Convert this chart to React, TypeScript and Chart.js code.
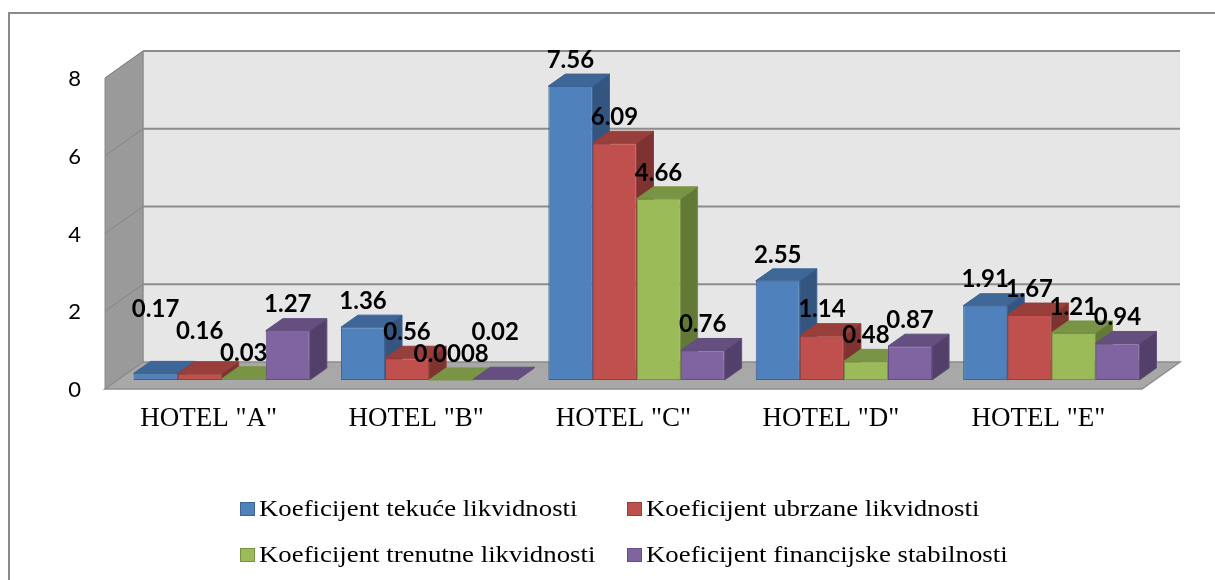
import React, { useEffect, useRef } from "react";
import { Chart, registerables } from "chart.js";

Chart.register(...registerables);

// ---- data ----
const categories = ['HOTEL "A"', 'HOTEL "B"', 'HOTEL "C"', 'HOTEL "D"', 'HOTEL "E"'];
const seriesNames = [
  "Koeficijent tekuće likvidnosti",
  "Koeficijent ubrzane likvidnosti",
  "Koeficijent trenutne likvidnosti",
  "Koeficijent financijske stabilnosti",
];
const tekuceLikvidnost = [0.17, 1.36, 7.56, 2.55, 1.91];
const ubrzaneLikvidnost = [0.16, 0.56, 6.09, 1.14, 1.67];
const trenutneLikvidnost = [0.03, 0.0008, 4.66, 0.48, 1.21];
const financijskeStabilnost = [1.27, 0.02, 0.76, 0.87, 0.94];
const yTickValues = [0, 2, 4, 6, 8];

// ---- styles ----
const palette = [
  { front: "#4f81bd", top: "#3e6696", side: "#335580", border: "#3b6394" },
  { front: "#c0504d", top: "#983f3c", side: "#7f3331", border: "#953d3a" },
  { front: "#9bbb59", top: "#7a9446", side: "#637a37", border: "#789244" },
  { front: "#8064a2", top: "#654f80", side: "#52406a", border: "#634e7e" },
];
const FRONT = { dx: -13, dy: 9 };
const BACK = { dx: 25, dy: -18 };
const DEPTH = { dx: 17, dy: -12 };

const threeDPlugin = {
  id: "threeD",
  beforeDraw(chart: any) {
    const { ctx, chartArea: a } = chart;
    const y = chart.scales.y;
    ctx.save();
    ctx.fillStyle = "#ffffff";
    ctx.fillRect(0, 0, chart.width, chart.height);
    // outer frame
    ctx.strokeStyle = "#8a8a8a";
    ctx.lineWidth = 2;
    ctx.strokeRect(9, 13, chart.width + 40, chart.height + 40);

    const yTop = y.getPixelForValue(y.max);
    const yBot = y.getPixelForValue(y.min);

    // back wall
    ctx.fillStyle = "#e6e6e6";
    ctx.fillRect(a.left + BACK.dx, yTop + BACK.dy, a.right - a.left, yBot - yTop);

    // left wall
    ctx.beginPath();
    ctx.moveTo(a.left + FRONT.dx, yTop + FRONT.dy);
    ctx.lineTo(a.left + BACK.dx, yTop + BACK.dy);
    ctx.lineTo(a.left + BACK.dx, yBot + BACK.dy);
    ctx.lineTo(a.left + FRONT.dx, yBot + FRONT.dy);
    ctx.closePath();
    ctx.fillStyle = "#9a9a9a";
    ctx.fill();
    ctx.strokeStyle = "#8a8a8a";
    ctx.lineWidth = 1;
    ctx.stroke();

    // gridlines
    for (const v of yTickValues) {
      if (v === y.min) continue;
      const py = y.getPixelForValue(v);
      ctx.strokeStyle = "#8c8c8c";
      ctx.lineWidth = 2;
      ctx.beginPath();
      ctx.moveTo(a.left + BACK.dx, py + BACK.dy);
      ctx.lineTo(a.right + BACK.dx, py + BACK.dy);
      ctx.stroke();
      ctx.lineWidth = 1;
      ctx.strokeStyle = "#858585";
      ctx.beginPath();
      ctx.moveTo(a.left + FRONT.dx, py + FRONT.dy);
      ctx.lineTo(a.left + BACK.dx, py + BACK.dy);
      ctx.stroke();
    }
    ctx.strokeStyle = "#8c8c8c";
    ctx.lineWidth = 1;
    ctx.beginPath();
    ctx.moveTo(a.left + BACK.dx, yTop + BACK.dy);
    ctx.lineTo(a.left + BACK.dx, yBot + BACK.dy);
    ctx.stroke();

    // floor
    ctx.beginPath();
    ctx.moveTo(a.left + FRONT.dx, yBot + FRONT.dy);
    ctx.lineTo(a.right + FRONT.dx, yBot + FRONT.dy);
    ctx.lineTo(a.right + BACK.dx, yBot + BACK.dy);
    ctx.lineTo(a.left + BACK.dx, yBot + BACK.dy);
    ctx.closePath();
    ctx.fillStyle = "#a8a8a8";
    ctx.fill();
    ctx.strokeStyle = "#8c8c8c";
    ctx.lineWidth = 1.5;
    ctx.stroke();
    ctx.restore();
  },
  beforeDatasetsDraw(chart: any) {
    const { ctx } = chart;
    ctx.save();
    chart.data.datasets.forEach((ds: any, i: number) => {
      const meta = chart.getDatasetMeta(i);
      const col = palette[i];
      meta.data.forEach((bar: any) => {
        const p = bar.getProps(["x", "y", "base", "width"], true);
        const l = p.x - p.width / 2;
        const r = p.x + p.width / 2;
        const t = p.y;
        const b = p.base;
        ctx.beginPath();
        ctx.moveTo(l, t);
        ctx.lineTo(l + DEPTH.dx, t + DEPTH.dy);
        ctx.lineTo(r + DEPTH.dx, t + DEPTH.dy);
        ctx.lineTo(r, t);
        ctx.closePath();
        ctx.fillStyle = col.top;
        ctx.fill();
        ctx.strokeStyle = col.border;
        ctx.lineWidth = 1;
        ctx.stroke();
        ctx.beginPath();
        ctx.moveTo(r, t);
        ctx.lineTo(r + DEPTH.dx, t + DEPTH.dy);
        ctx.lineTo(r + DEPTH.dx, b + DEPTH.dy);
        ctx.lineTo(r, b);
        ctx.closePath();
        ctx.fillStyle = col.side;
        ctx.fill();
        ctx.stroke();
      });
    });
    ctx.restore();
  },
  afterDatasetsDraw(chart: any) {
    const { ctx } = chart;
    ctx.save();
    ctx.font = "bold 24px Lato";
    ctx.fillStyle = "#000";
    ctx.textAlign = "center";
    ctx.textBaseline = "middle";
    const n = chart.data.labels.length;
    const nd = chart.data.datasets.length;
    for (let j = 0; j < n; j++) {
      const items: any[] = [];
      for (let i = 0; i < nd; i++) {
        const ds = chart.data.datasets[i];
        const bar = chart.getDatasetMeta(i).data[j];
        const p = bar.getProps(["x", "y"], true);
        const text = String(ds.data[j]);
        const w = ctx.measureText(text).width;
        items.push({ text, x: p.x, y: p.y - 26, w, v: ds.data[j], moved: false });
      }
      // right-to-left: labels at nearly the same height step apart (taller bar's label goes up)
      for (let i = nd - 2; i >= 0; i--) {
        const a = items[i];
        const b = items[i + 1];
        const overlapX = (a.x + a.w / 2) - (b.x - b.w / 2);
        const dy = Math.abs(a.y - b.y);
        if (overlapX > -3 && (dy < 8 || (b.moved && dy < 22))) {
          if (a.v >= b.v || b.moved) {
            a.y = b.y - 22;
            a.moved = true;
          } else {
            b.y = a.y - 22;
            b.moved = true;
          }
        }
      }
      items.forEach((it) => ctx.fillText(it.text, it.x, it.y));
    }
    ctx.restore();
  },
  afterDraw(chart: any) {
    const { ctx } = chart;
    ctx.save();
    ctx.font = "23px 'Liberation Serif'";
    ctx.textBaseline = "middle";
    ctx.textAlign = "left";
    const colX = [240, 627];
    const rowY = [509, 555];
    chart.data.datasets.forEach((ds: any, i: number) => {
      const cx = colX[i % 2];
      const cy = rowY[Math.floor(i / 2)];
      ctx.fillStyle = palette[i].front;
      ctx.fillRect(cx, cy - 7, 15, 14);
      ctx.strokeStyle = palette[i].border;
      ctx.lineWidth = 1;
      ctx.strokeRect(cx + 0.5, cy - 6.5, 14, 13);
      ctx.fillStyle = "#000";
      ctx.save();
      ctx.translate(cx + 19, cy + 1);
      ctx.scale(1.165, 1);
      ctx.fillText(ds.label, 0, 0);
      ctx.restore();
    });
    ctx.restore();
  },
};

export default function App() {
  const ref = useRef<HTMLCanvasElement | null>(null);
  useEffect(() => {
    if (!ref.current) return;
    const series = [tekuceLikvidnost, ubrzaneLikvidnost, trenutneLikvidnost, financijskeStabilnost];
    const chart = new Chart(ref.current, {
      type: "bar",
      data: {
        labels: categories,
        datasets: series.map((d, i) => ({
          label: seriesNames[i],
          data: d,
          backgroundColor: palette[i].front,
          borderColor: palette[i].border,
          borderWidth: 1,
          borderSkipped: false,
        })),
      },
      options: {
        responsive: false,
        animation: false,
        layout: { padding: { left: 58, right: 60, top: 69, bottom: 140 } },
        plugins: { legend: { display: false }, tooltip: { enabled: false } },
        datasets: { bar: { categoryPercentage: 0.85, barPercentage: 1 } },
        scales: {
          x: {
            grid: { display: false },
            border: { display: false },
            ticks: {
              color: "#000",
              font: { family: "'Liberation Serif'", size: 27 },
              padding: 15,
              labelOffset: -13,
              maxRotation: 0,
            },
            afterFit: (s: any) => { s.height = 60; },
          },
          y: {
            min: 0,
            max: 8,
            grid: { display: false },
            border: { display: false },
            ticks: {
              stepSize: 2,
              color: "#000",
              font: { family: "Lato", size: 22 },
              padding: 29,
              labelOffset: 10,
            },
            afterFit: (s: any) => { s.width = 60; },
          },
        },
      },
      plugins: [threeDPlugin],
    });
    return () => chart.destroy();
  }, []);
  return (
    <canvas
      ref={ref}
      width={1215}
      height={580}
      style={{ position: "fixed", left: 0, top: 0, width: 1215, height: 580 }}
    />
  );
}
